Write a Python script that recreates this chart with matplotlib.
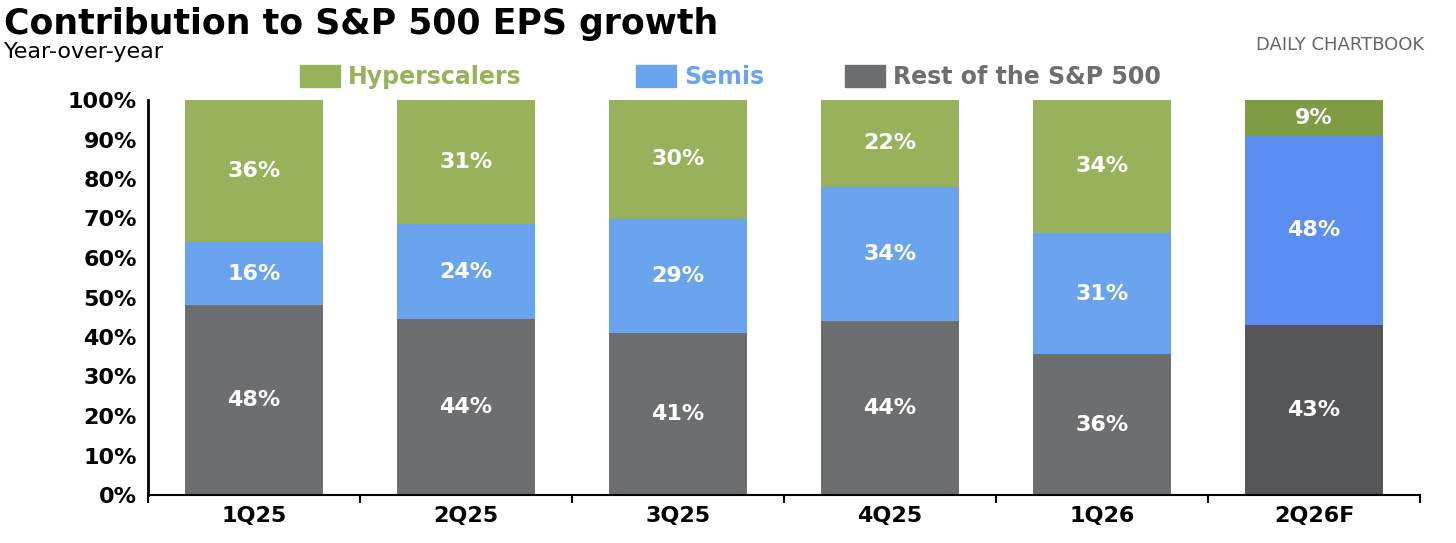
import numpy as np
import matplotlib.pyplot as plt

plt.rcParams['font.family'] = ['DejaVu Sans']

quarters = ['1Q25', '2Q25', '3Q25', '4Q25', '1Q26', '2Q26F']
rest = [48, 44, 41, 44, 36, 43]
semis = [16, 24, 29, 34, 31, 48]
hyper = [36, 31, 30, 22, 34, 9]

green = ['#97b25a'] * 5 + ['#7f9b44']
blue = ['#6aa3ee'] * 5 + ['#5b8ef0']
grey = ['#6d6e70'] * 5 + ['#545658']

fig = plt.figure(figsize=(14.56, 5.43), dpi=100)
ax = fig.add_axes([148 / 1456, 48 / 543, 1272 / 1456, 395 / 543])

x = np.arange(len(quarters))
w = 0.65
rest_a = np.array(rest, dtype=float)
semis_a = np.array(semis, dtype=float)
hyper_a = np.array(hyper, dtype=float)
# shares are rounded, so scale each stack to exactly 100%
tot = rest_a + semis_a + hyper_a
r_h, s_h, h_h = rest_a * 100 / tot, semis_a * 100 / tot, hyper_a * 100 / tot
ax.bar(x, r_h, w, color=grey)
ax.bar(x, s_h, w, bottom=r_h, color=blue)
ax.bar(x, h_h, w, bottom=r_h + s_h, color=green)

for i in range(len(x)):
    for val, h, bot in [(rest[i], r_h[i], 0), (semis[i], s_h[i], r_h[i]),
                        (hyper[i], h_h[i], r_h[i] + s_h[i])]:
        ax.text(x[i], bot + h / 2, f'{val}%', ha='center', va='center',
                color='white', fontsize=16, fontweight='bold')

ax.set_xlim(-0.5, len(x) - 0.5)
ax.set_ylim(0, 100)
ax.set_yticks(np.arange(0, 101, 10))
ax.set_yticklabels([f'{v}%' for v in range(0, 101, 10)], fontsize=16, fontweight='bold')
ax.set_xticks(x)
ax.set_xticklabels(quarters, fontsize=16, fontweight='bold')
ax.tick_params(axis='y', length=0, pad=8)
ax.set_xticks(np.arange(-0.5, len(x), 1), minor=True)
ax.tick_params(axis='x', which='minor', length=6, width=1.5)
ax.tick_params(axis='x', which='major', length=0, pad=8)
for s in ['top', 'right']:
    ax.spines[s].set_visible(False)
ax.spines['left'].set_linewidth(2)
ax.spines['bottom'].set_linewidth(1.5)

fig.text(0.003, 0.955, 'Contribution to S&P 500 EPS growth', fontsize=25,
         fontweight='bold', va='center')
fig.text(0.003, 0.905, 'Year-over-year', fontsize=16, va='center')
fig.text(0.978, 0.918, 'DAILY CHARTBOOK', fontsize=13, color='#666666',
         ha='right', va='center')

legend = [('Hyperscalers', '#97b25a', 300), ('Semis', '#6aa3ee', 636), ('Rest of the S&P 500', '#6d6e70', 845)]
for label, c, px in legend:
    fig.patches.append(plt.Rectangle((px / 1456, 0.84), 40 / 1456, 0.04,
                                     transform=fig.transFigure, color=c))
    fig.text((px + 48) / 1456, 0.858, label, fontsize=17, fontweight='bold',
             color=c, va='center')

fig.savefig('out.png')
